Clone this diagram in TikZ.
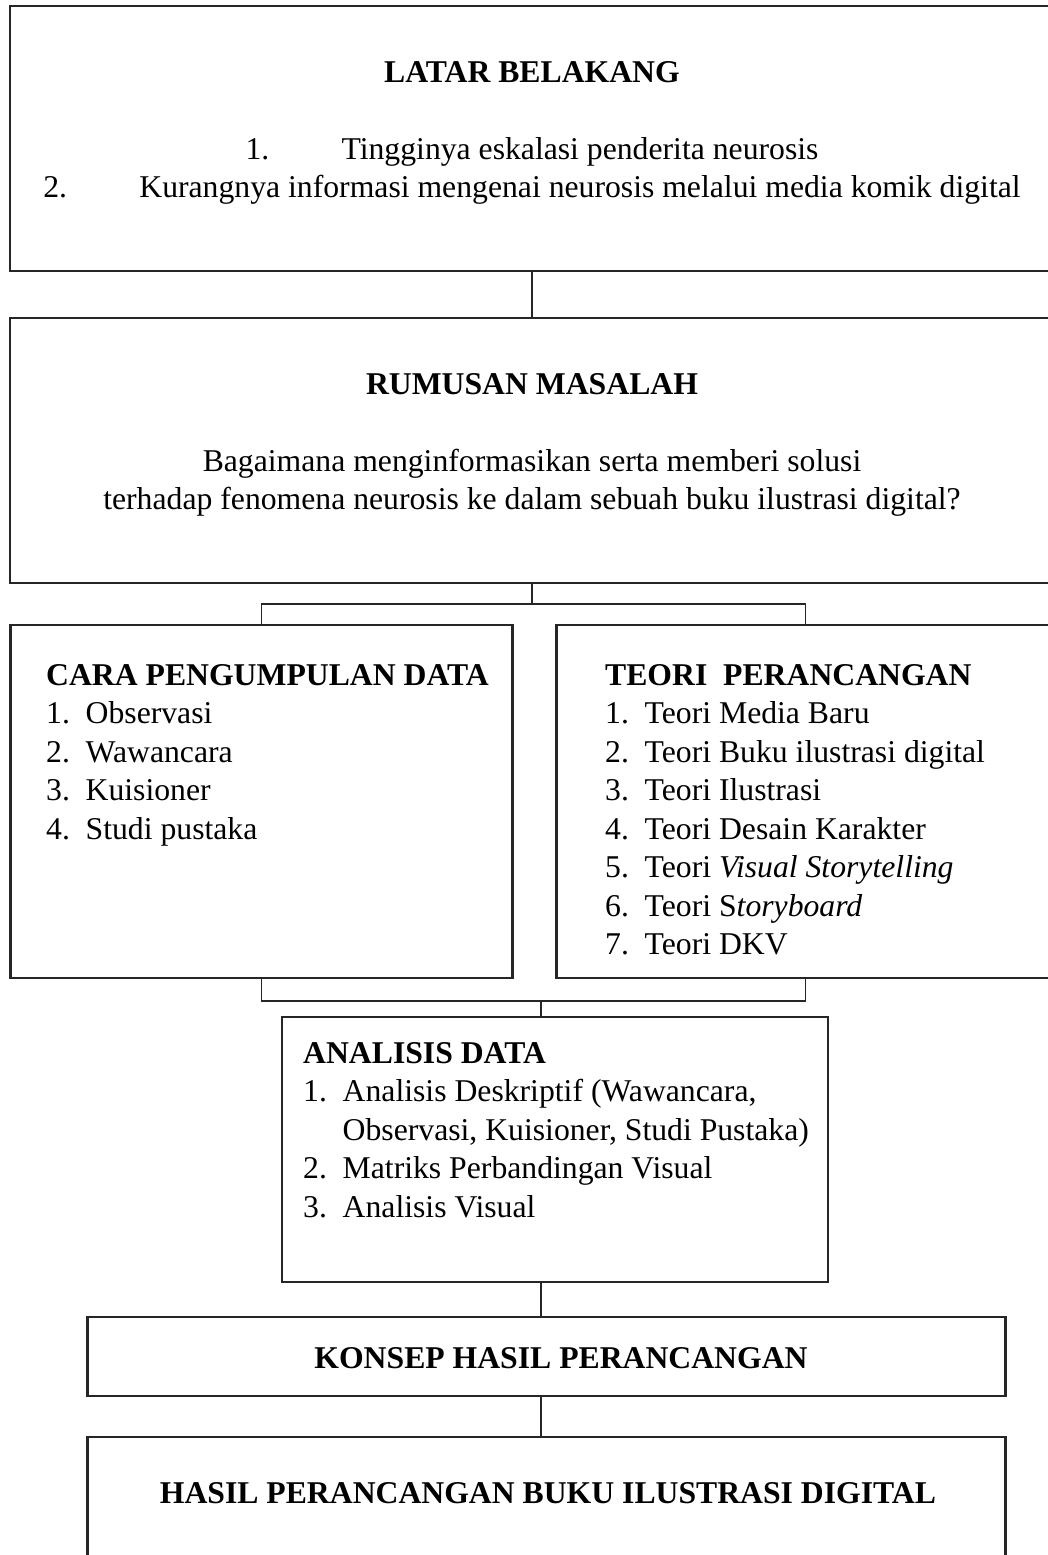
\documentclass[tikz,border=0pt]{standalone}
\usepackage{fontspec}
\setmainfont{Liberation Serif}
\newcommand{\numlbl}[1]{\makebox[39.5pt][l]{#1}}
\newcommand{\widelbl}[1]{\makebox[96pt][l]{#1}}
\begin{document}
\begin{tikzpicture}[x=1pt,y=-1pt,
    box/.style={draw=black!85, line width=2.6pt, inner sep=0pt, outer sep=0pt, anchor=north west},
    link/.style={draw=black!85, line width=1.9pt},
    txt/.style={inner sep=0pt, anchor=base, font=\fontsize{31.7}{38.5}\selectfont},
    ltxt/.style={txt, anchor=base west}]
    \useasboundingbox (0,0) rectangle (1048,1555);
    % boxes
    \node[box, minimum width=1044, minimum height=265] (latar) at (10,6) {};
    \node[box, minimum width=1044, minimum height=265] (rumusan) at (10,318) {};
    \node[box, minimum width=502, minimum height=353] (cara) at (10.5,625) {};
    \node[box, minimum width=498, minimum height=353] (teori) at (556.5,625) {};
    \node[box, minimum width=546, minimum height=265] (analisis) at (282,1017) {};
    \node[box, minimum width=918, minimum height=79] (konsep) at (87.5,1317) {};
    \node[box, minimum width=918, minimum height=200] (hasil) at (87.5,1437) {};
    % connectors
    \coordinate (splitTop) at (532,604);
    \coordinate (joinBot) at (541,1001);
    \draw[link] (latar.south) -- (rumusan.north);
    \draw[link] (rumusan.south) -- (splitTop);
    \draw[link] (cara.north) |- (splitTop) -| (teori.north);
    \draw[link] (cara.south) |- (joinBot) -| (teori.south);
    \draw[link] (joinBot) -- (joinBot |- analisis.north);
    \draw[link] (analisis.south -| joinBot) -- (konsep.north -| joinBot);
    \draw[link] (konsep.south -| joinBot) -- (hasil.north -| joinBot);
    % latar belakang
    \node[txt] (latarHead) at (532,82) {\textbf{LATAR BELAKANG}};
    \node[txt] (latarA) at (532,159) {\widelbl{1.}Tingginya eskalasi penderita neurosis};
    \node[txt] (latarB) at (532,197.5) {\widelbl{2.}Kurangnya informasi mengenai neurosis melalui media komik digital};
    % rumusan masalah
    \node[txt] (rumusanHead) at (532,394) {\textbf{RUMUSAN MASALAH}};
    \node[txt] (rumusanA) at (532,471) {Bagaimana menginformasikan serta memberi solusi};
    \node[txt] (rumusanB) at (532,509.5) {terhadap fenomena neurosis ke dalam sebuah buku ilustrasi digital?};
    % cara pengumpulan data
    \node[ltxt] (caraHead) at (46,685) {\textbf{CARA PENGUMPULAN DATA}};
    \node[ltxt] (caraA) at (46,723.5) {\numlbl{1.}Observasi};
    \node[ltxt] (caraB) at (46,762) {\numlbl{2.}Wawancara};
    \node[ltxt] (caraC) at (46,800.5) {\numlbl{3.}Kuisioner};
    \node[ltxt] (caraD) at (46,839) {\numlbl{4.}Studi pustaka};
    % teori perancangan
    \node[ltxt] (teoriHead) at (605,685) {\textbf{TEORI\ \ PERANCANGAN}};
    \node[ltxt] (teoriA) at (605,723.5) {\numlbl{1.}Teori Media Baru};
    \node[ltxt] (teoriB) at (605,762) {\numlbl{2.}Teori Buku ilustrasi digital};
    \node[ltxt] (teoriC) at (605,800.5) {\numlbl{3.}Teori Ilustrasi};
    \node[ltxt] (teoriD) at (605,839) {\numlbl{4.}Teori Desain Karakter};
    \node[ltxt] (teoriE) at (605,877.5) {\numlbl{5.}Teori \textit{Visual Storytelling}};
    \node[ltxt] (teoriF) at (605,916) {\numlbl{6.}Teori S\textit{toryboard}};
    \node[ltxt] (teoriG) at (605,954.5) {\numlbl{7.}Teori DKV};
    % analisis data
    \node[ltxt] (analisisHead) at (303,1063) {\textbf{ANALISIS DATA}};
    \node[ltxt] (analisisA) at (303,1101.5) {\numlbl{1.}Analisis Deskriptif (Wawancara,};
    \node[ltxt] (analisisA2) at (303,1140) {\numlbl{}Observasi, Kuisioner, Studi Pustaka)};
    \node[ltxt] (analisisB) at (303,1178.5) {\numlbl{2.}Matriks Perbandingan Visual};
    \node[ltxt] (analisisC) at (303,1217) {\numlbl{3.}Analisis Visual};
    % hasil
    \node[txt] (konsepHead) at (561,1368) {\textbf{KONSEP HASIL PERANCANGAN}};
    \node[txt] (hasilHead) at (548,1503) {\textbf{HASIL PERANCANGAN BUKU ILUSTRASI DIGITAL}};
\end{tikzpicture}
\end{document}
